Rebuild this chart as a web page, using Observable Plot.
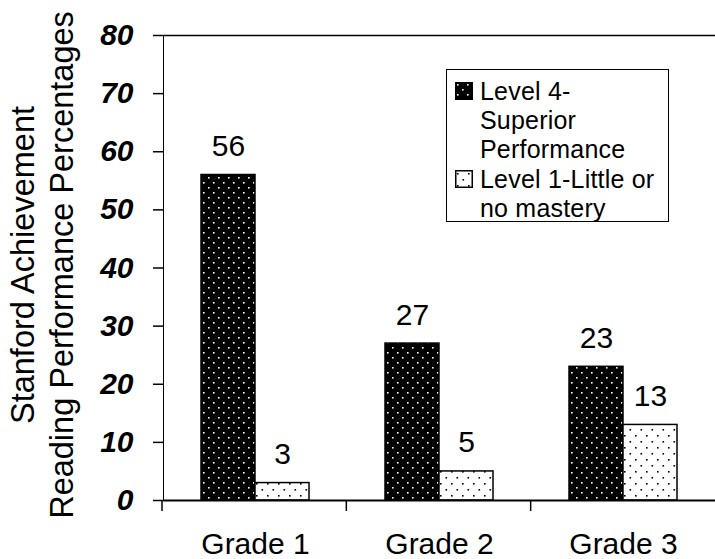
<!DOCTYPE html>
<html>
<head>
<meta charset="utf-8">
<script src="https://cdn.jsdelivr.net/npm/d3@7"></script>
<script src="https://cdn.jsdelivr.net/npm/@observablehq/plot@0.6"></script>
<style>
  html, body { margin: 0; padding: 0; background: #fff; }
  #chart { position: relative; width: 715px; height: 559px; font-family: "Liberation Sans", Arial, sans-serif; }
  #chart svg.plot { position: absolute; left: 0; top: 0; }
  #chart [aria-label^="y-axis"] text { font-weight: bold; font-style: italic; }
  .legend {
    position: absolute; left: 446px; top: 69px; width: 221px; height: 151px;
    border: 1.5px solid #000; background: #fff; color: #000;
    font-size: 25px; line-height: 29px;
  }
  .legend .entry { position: absolute; left: 0; }
  .legend .entry svg { position: absolute; left: 8px; }
  .legend .entry div { position: absolute; left: 33px; white-space: nowrap; letter-spacing: 0.2px; }
</style>
</head>
<body>
<div id="chart"></div>
<script>
// Stanford Achievement reading results by grade
const grades = ["Grade 1", "Grade 2", "Grade 3"];
const levels = ["Level 4-Superior Performance", "Level 1-Little or no mastery"];
const level4 = [56, 27, 23];
const level1 = [3, 5, 13];
const yTicks = [0, 10, 20, 30, 40, 50, 60, 70, 80];
const legendLines = [["Level 4-", "Superior", "Performance"], ["Level 1-Little or", "no mastery"]];
const titleLines = ["Stanford Achievement", "Reading Performance Percentages"];

const rows = grades.flatMap((grade, i) => [
  {grade, level: levels[0], value: level4[i]},
  {grade, level: levels[1], value: level1[i]}
]);

const plot = Plot.plot({
  width: 715,
  height: 559,
  marginTop: 35,
  marginBottom: 59,
  marginLeft: 162,
  marginRight: 0,
  style: {fontFamily: '"Liberation Sans", Arial, sans-serif', fontSize: "30px", color: "#000", background: "#fff"},
  facet: {data: rows, x: "grade"},
  fx: {domain: grades, padding: 0, axis: "bottom", label: null, tickSize: 0, tickPadding: 32},
  x: {domain: levels, paddingInner: 0, paddingOuter: 0.7, axis: null},
  y: {domain: [0, 80], ticks: yTicks, tickSize: 10, tickPadding: 20, line: true, label: null},
  color: {type: "ordinal", domain: levels, range: ["url(#dots-dark)", "url(#dots-light)"]},
  marks: [
    Plot.ruleY([80], {stroke: "#000", strokeWidth: 1.5}),
    Plot.barY(rows, {x: "level", y: "value", fill: "level", stroke: "#000", strokeWidth: 1.5}),
    Plot.text(rows, {x: "level", y: "value", text: d => String(d.value), lineAnchor: "bottom", dy: -19, fill: "#000"}),
    Plot.ruleY([0], {stroke: "#000", strokeWidth: 2})
  ]
});
plot.classList.add("plot");

const svg = d3.select(plot);

// dotted fills for the bars and legend swatches
const defs = svg.insert("defs", ":first-child");
const dark = defs.append("pattern").attr("id", "dots-dark").attr("patternUnits", "userSpaceOnUse")
  .attr("width", 10).attr("height", 10);
dark.append("rect").attr("width", 10).attr("height", 10).attr("fill", "#000");
dark.append("rect").attr("x", 2).attr("y", 2).attr("width", 1.6).attr("height", 1.6).attr("fill", "#fff");
dark.append("rect").attr("x", 7).attr("y", 7).attr("width", 1.6).attr("height", 1.6).attr("fill", "#fff");
const light = defs.append("pattern").attr("id", "dots-light").attr("patternUnits", "userSpaceOnUse")
  .attr("width", 11).attr("height", 12);
light.append("rect").attr("width", 11).attr("height", 12).attr("fill", "#fff");
light.append("rect").attr("x", 2).attr("y", 3).attr("width", 1.6).attr("height", 1.6).attr("fill", "#000");
light.append("rect").attr("x", 7.5).attr("y", 9).attr("width", 1.6).attr("height", 1.6).attr("fill", "#000");

// axis styling
svg.selectAll('[aria-label^="y-axis"] line, [aria-label^="y-axis"] path').attr("stroke-width", 1.5);

// category boundary ticks under the baseline
const fxs = plot.scale("fx"), ys = plot.scale("y");
const band = d3.scaleBand().domain(fxs.domain).range(fxs.range).padding(0);
const yScale = d3.scaleLinear().domain(ys.domain).range(ys.range);
const bounds = grades.map(g => band(g));
svg.append("g").attr("aria-label", "category ticks")
  .selectAll("line").data(bounds).join("line")
  .attr("x1", d => d).attr("x2", d => d)
  .attr("y1", yScale(0)).attr("y2", yScale(0) + 11)
  .attr("stroke", "#000").attr("stroke-width", 1.5);

// two-line y axis title
const title = svg.append("text").attr("transform", "rotate(-90)")
  .attr("text-anchor", "middle").attr("fill", "#000").style("font-size", "32.5px");
title.selectAll("tspan").data(titleLines).join("tspan")
  .attr("x", -265).attr("y", (d, i) => 34 + i * 39).text(d => d);

const chart = document.getElementById("chart");
chart.appendChild(plot);

// legend box
const legend = document.createElement("div");
legend.className = "legend";
const entryTops = [7, 95];
legendLines.forEach((lines, i) => {
  const entry = document.createElement("div");
  entry.className = "entry";
  entry.style.top = entryTops[i] + "px";
  const sw = document.createElementNS("http://www.w3.org/2000/svg", "svg");
  sw.setAttribute("width", 18); sw.setAttribute("height", 18);
  sw.style.top = "5px";
  const r = document.createElementNS("http://www.w3.org/2000/svg", "rect");
  r.setAttribute("x", 0.75); r.setAttribute("y", 0.75);
  r.setAttribute("width", 16.5); r.setAttribute("height", 16.5);
  r.setAttribute("fill", i === 0 ? "url(#dots-dark)" : "url(#dots-light)");
  r.setAttribute("stroke", "#000"); r.setAttribute("stroke-width", 1.5);
  sw.appendChild(r);
  entry.appendChild(sw);
  lines.forEach((t, j) => {
    const line = document.createElement("div");
    line.style.top = (j * 29) + "px";
    line.textContent = t;
    entry.appendChild(line);
  });
  legend.appendChild(entry);
});
chart.appendChild(legend);
</script>
</body>
</html>
